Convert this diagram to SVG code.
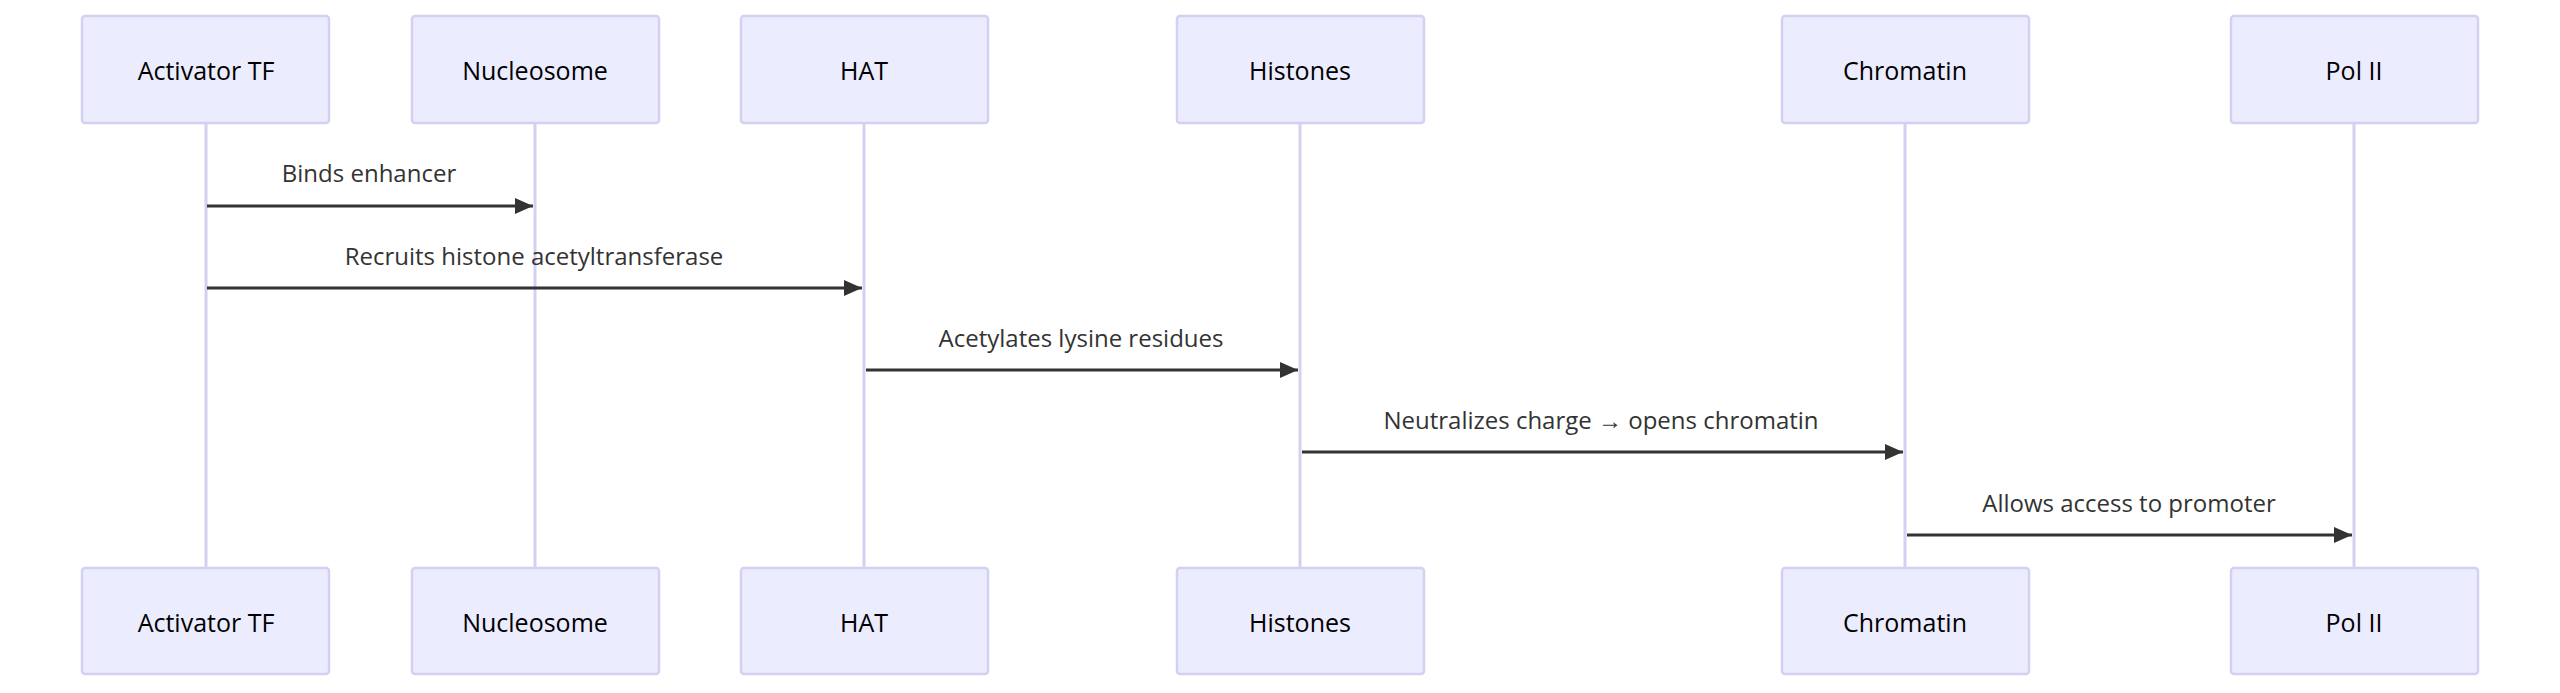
<svg xmlns="http://www.w3.org/2000/svg" width="2560" height="693" viewBox="0 0 2560 693">
<style>
.box{fill:#ECECFF;stroke:#D4D0F2;stroke-width:2.5}
.lt{font-family:"Open Sans","Liberation Sans",sans-serif;font-size:25px;fill:#000;text-anchor:middle;dominant-baseline:central}
.life{stroke:#D4D0F2;stroke-width:3}
.msg{stroke:#333;stroke-width:3;fill:none;marker-end:url(#ah)}
.ml{font-family:"Open Sans","Liberation Sans",sans-serif;font-size:24px;fill:#333;text-anchor:middle;dominant-baseline:central}
</style>
<defs><marker id="ah" markerWidth="18" markerHeight="16" refX="18" refY="8" orient="auto" markerUnits="userSpaceOnUse"><path d="M0,0 L18,8 L0,16 Z" fill="#333"/></marker></defs>
<rect width="2560" height="693" fill="#fff"/>
<g id="lifelines">
<line class="life" x1="206" y1="124" x2="206" y2="567"/>
<line class="life" x1="535" y1="124" x2="535" y2="567"/>
<line class="life" x1="864" y1="124" x2="864" y2="567"/>
<line class="life" x1="1300" y1="124" x2="1300" y2="567"/>
<line class="life" x1="1905" y1="124" x2="1905" y2="567"/>
<line class="life" x1="2354" y1="124" x2="2354" y2="567"/>
</g>
<g id="n1"><rect class="box" x="82" y="16" width="247" height="107" rx="3"/><text class="lt" x="206" y="70">Activator TF</text><rect class="box" x="82" y="568" width="247" height="106" rx="3"/><text class="lt" x="206" y="622">Activator TF</text></g>
<g id="n2"><rect class="box" x="412" y="16" width="247" height="107" rx="3"/><text class="lt" x="535" y="70">Nucleosome</text><rect class="box" x="412" y="568" width="247" height="106" rx="3"/><text class="lt" x="535" y="622">Nucleosome</text></g>
<g id="n3"><rect class="box" x="741" y="16" width="247" height="107" rx="3"/><text class="lt" x="864" y="70">HAT</text><rect class="box" x="741" y="568" width="247" height="106" rx="3"/><text class="lt" x="864" y="622">HAT</text></g>
<g id="n4"><rect class="box" x="1177" y="16" width="247" height="107" rx="3"/><text class="lt" x="1300" y="70">Histones</text><rect class="box" x="1177" y="568" width="247" height="106" rx="3"/><text class="lt" x="1300" y="622">Histones</text></g>
<g id="n5"><rect class="box" x="1782" y="16" width="247" height="107" rx="3"/><text class="lt" x="1905" y="70">Chromatin</text><rect class="box" x="1782" y="568" width="247" height="106" rx="3"/><text class="lt" x="1905" y="622">Chromatin</text></g>
<g id="n6"><rect class="box" x="2231" y="16" width="247" height="107" rx="3"/><text class="lt" x="2354" y="70">Pol II</text><rect class="box" x="2231" y="568" width="247" height="106" rx="3"/><text class="lt" x="2354" y="622">Pol II</text></g>
<g id="connectors">
<line class="msg" x1="207" y1="206" x2="533" y2="206"/><text class="ml" x="369" y="172">Binds enhancer</text>
<line class="msg" x1="207" y1="288" x2="862" y2="288"/><text class="ml" x="534" y="255">Recruits histone acetyltransferase</text>
<line class="msg" x1="866" y1="370" x2="1298" y2="370"/><text class="ml" x="1081" y="337">Acetylates lysine residues</text>
<line class="msg" x1="1302" y1="452" x2="1903" y2="452"/><text class="ml" x="1601" y="419">Neutralizes charge → opens chromatin</text>
<line class="msg" x1="1907" y1="535" x2="2352" y2="535"/><text class="ml" x="2129" y="502">Allows access to promoter</text>
</g>
</svg>
